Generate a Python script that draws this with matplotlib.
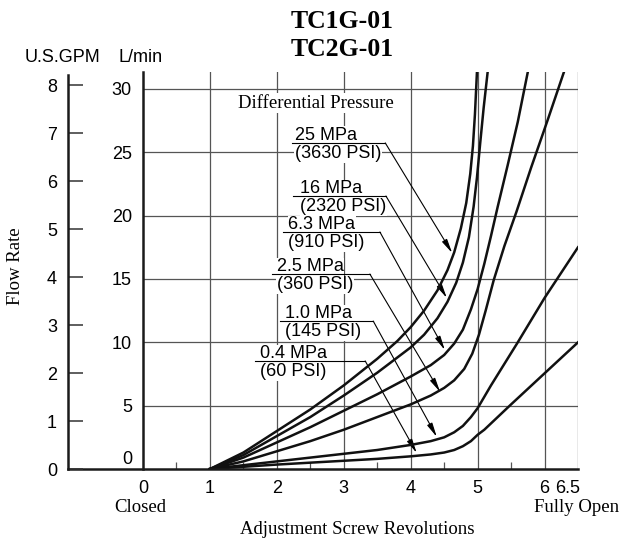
import matplotlib
matplotlib.use("Agg")
import matplotlib.pyplot as plt
import matplotlib.transforms as mtrans

plt.rcParams['font.family'] = 'Liberation Sans'
SERIF = 'Liberation Serif'

# flow curves (revolutions, L/min)
rev_25 = [1, 1.5, 2, 2.5, 3, 3.5, 3.8, 4, 4.2, 4.4, 4.55, 4.65, 4.75, 4.83, 4.89, 4.93, 4.96, 4.99]
flow_25 = [0, 1.3, 3.0, 4.7, 6.6, 8.7, 10.1, 11.2, 12.5, 14.1, 15.7, 17.1, 19.0, 21.0, 23.3, 25.5, 28.0, 31.34]

rev_16 = [1, 1.5, 2, 2.5, 3, 3.5, 4, 4.2, 4.4, 4.55, 4.68, 4.78, 4.87, 4.94, 4.99, 5.04, 5.09, 5.15]
flow_16 = [0, 1.1, 2.6, 4.1, 5.8, 7.6, 9.6, 10.6, 11.9, 13.2, 14.7, 16.3, 18.3, 20.7, 23.0, 25.8, 28.5, 31.34]

rev_63 = [1, 1.5, 2, 2.5, 3, 3.5, 4, 4.3, 4.5, 4.65, 4.78, 4.9, 5.0, 5.1, 5.2, 5.3, 5.45, 5.6, 5.75]
flow_63 = [0, 0.9, 2.1, 3.3, 4.6, 5.9, 7.3, 8.2, 9.0, 9.9, 11.0, 12.6, 14.2, 16.2, 18.4, 20.7, 24.0, 27.4, 31.34]

rev_25b = [1, 1.5, 2, 2.5, 3, 3.5, 4, 4.3, 4.5, 4.65, 4.8, 4.92, 5.02, 5.12, 5.24, 5.4, 5.58, 5.8, 6.05, 6.29]
flow_25b = [0, 0.6, 1.4, 2.2, 3.1, 4.1, 5.1, 5.8, 6.4, 7.0, 7.9, 9.1, 10.6, 12.5, 14.9, 17.6, 20.3, 23.8, 27.6, 31.34]

rev_10 = [1, 2, 3, 3.5, 4, 4.3, 4.5, 4.65, 4.78, 4.9, 5.0, 5.1, 5.2, 5.6, 6.0, 6.5]
flow_10 = [0, 0.6, 1.2, 1.5, 1.9, 2.2, 2.5, 2.9, 3.4, 4.1, 4.8, 5.7, 6.6, 10.0, 13.5, 17.5]

rev_04 = [1, 2, 3, 3.5, 4, 4.3, 4.5, 4.65, 4.78, 4.9, 5.0, 5.1, 5.2, 5.5, 6.0, 6.5]
flow_04 = [0, 0.35, 0.65, 0.8, 1.0, 1.15, 1.3, 1.5, 1.8, 2.2, 2.7, 3.1, 3.6, 5.1, 7.55, 10.0]

curves = [(rev_25, flow_25), (rev_16, flow_16), (rev_63, flow_63),
          (rev_25b, flow_25b), (rev_10, flow_10), (rev_04, flow_04)]

mpa_labels = ['25 MPa', '16 MPa', '6.3 MPa', '2.5 MPa', '1.0 MPa', '0.4 MPa']
psi_labels = ['(3630 PSI)', '(2320 PSI)', '(910 PSI)', '(360 PSI)', '(145 PSI)', '(60 PSI)']

lmin_ticks = [0, 5, 10, 15, 20, 25, 30]
gpm_ticks = [0, 1, 2, 3, 4, 5, 6, 7, 8]
rev_ticks = [0, 1, 2, 3, 4, 5, 6, 6.5]
rev_minor = [0.5, 1.5, 2.5, 3.5, 4.5, 5.5]
LPM_PER_GPM = 3.785

# label layout: underline y, underline x0, x1, text x, arrow tip (x, y)
label_pos = [
    (25.74, 2.23, 3.62, 2.27, 4.62, 17.05),
    (21.55, 2.24, 3.63, 2.35, 4.54, 13.5),
    (18.71, 2.09, 3.54, 2.17, 4.51, 9.39),
    (15.39, 1.93, 3.39, 2.00, 4.44, 6.08),
    (11.68, 2.05, 3.44, 2.12, 4.39, 2.53),
    (8.53, 1.67, 3.32, 1.75, 4.09, 1.26),
]

W, H = 621, 550
def fx(px):
    return px / W
def fy(py):
    return 1 - py / H

fig = plt.figure(figsize=(6.21, 5.5), dpi=100)
ax = fig.add_axes([fx(143), fy(469), 435 / W, 397 / H])
ax.set_xlim(0, 6.5)
ax.set_ylim(0, 31.34)
ax.patch.set_visible(False)
for s in ax.spines.values():
    s.set_visible(False)
ax.spines['left'].set_visible(True)
ax.spines['left'].set_linewidth(1.8)
ax.spines['left'].set_color('#1a1a1a')

grid_c = '#555555'
for v in lmin_ticks[1:]:
    ax.axhline(v, color=grid_c, lw=0.9, zorder=1)
for v in rev_ticks[1:]:
    ax.axvline(v, color=grid_c, lw=0.9, zorder=1)
ax.plot([-75 / 435, 1], [0, 0], transform=ax.transAxes, clip_on=False,
        color='#1a1a1a', lw=1.8, zorder=6)

for r, f in curves:
    ax.plot(r, f, color='#111111', lw=1.8, zorder=5, solid_joinstyle='round')

ax.set_yticks(lmin_ticks)
ax.tick_params(axis='y', length=0, pad=8, labelsize=13)
lab0 = ax.yaxis.get_major_ticks()[0].label1
lab0.set_transform(lab0.get_transform() + mtrans.ScaledTranslation(0, 0.12, fig.dpi_scale_trans))

ax.set_xticks(rev_ticks)
ax.set_xticklabels(['0', '1', '2', '3', '4', '5', '6', '6.5'])
ax.set_xticks(rev_minor, minor=True)
ax.tick_params(axis='x', which='major', length=0, pad=8, labelsize=13)
ax.tick_params(axis='x', which='minor', direction='in', length=5, width=0.9, color=grid_c)
lab65 = ax.xaxis.get_major_ticks()[-1].label1
lab65.set_transform(lab65.get_transform() + mtrans.ScaledTranslation(-0.10, 0, fig.dpi_scale_trans))

# U.S.GPM axis
ax2 = fig.add_axes([fx(68), fy(469), 0.01, (469 - 75) / H])
ax2.set_ylim(0, (469 - 75) / (380 / 30) / LPM_PER_GPM)
ax2.patch.set_visible(False)
for s in ax2.spines.values():
    s.set_visible(False)
ax2.spines['left'].set_visible(True)
ax2.spines['left'].set_linewidth(1.8)
ax2.spines['left'].set_color('#1a1a1a')
ax2.set_xticks([])
ax2.set_yticks(gpm_ticks)
ax2.tick_params(axis='y', direction='in', length=11, width=1.1, color='#333333', pad=8, labelsize=13)

# pressure labels with leader arrows
for i in range(6):
    uy, x0, x1, tx, ax_, ay_ = label_pos[i]
    ax.text(tx, uy + 0.57, mpa_labels[i], fontsize=13, ha='left', va='center', zorder=3,
            bbox=dict(facecolor='white', edgecolor='none', pad=0.5))
    ax.text(tx, uy - 0.85, psi_labels[i], fontsize=13, ha='left', va='center', zorder=3,
            bbox=dict(facecolor='white', edgecolor='none', pad=0.5))
    ax.plot([x0, x1], [uy, uy], color='k', lw=0.8, zorder=4)
    ax.annotate('', xy=(ax_, ay_), xytext=(x1, uy), zorder=4,
                arrowprops=dict(arrowstyle='-|>,head_length=0.7,head_width=0.14',
                                mutation_scale=12, lw=0.8, color='k',
                                shrinkA=0, shrinkB=0))

fig.text(fx(316), fy(103), 'Differential Pressure', family=SERIF, fontsize=13.5,
         ha='center', va='center', bbox=dict(facecolor='white', edgecolor='none', pad=1))

fig.text(fx(342), fy(21), 'TC1G-01', family=SERIF, fontsize=18.5, fontweight='bold',
         ha='center', va='center')
fig.text(fx(342), fy(49), 'TC2G-01', family=SERIF, fontsize=18.5, fontweight='bold',
         ha='center', va='center')
fig.text(fx(62), fy(57), 'U.S.GPM', fontsize=13, ha='center', va='center')
fig.text(fx(141), fy(57), 'L/min', fontsize=13, ha='center', va='center')
fig.text(fx(15), fy(266), 'Flow Rate', family=SERIF, fontsize=13.5, rotation=90,
         ha='center', va='center')
fig.text(fx(140), fy(508), 'Closed', family=SERIF, fontsize=13.5, ha='center', va='center')
fig.text(fx(577), fy(508), 'Fully Open', family=SERIF, fontsize=13.5, ha='center', va='center')
fig.text(fx(357), fy(530), 'Adjustment Screw Revolutions', family=SERIF, fontsize=13.5,
         ha='center', va='center')

fig.savefig('out.png', dpi=100)
